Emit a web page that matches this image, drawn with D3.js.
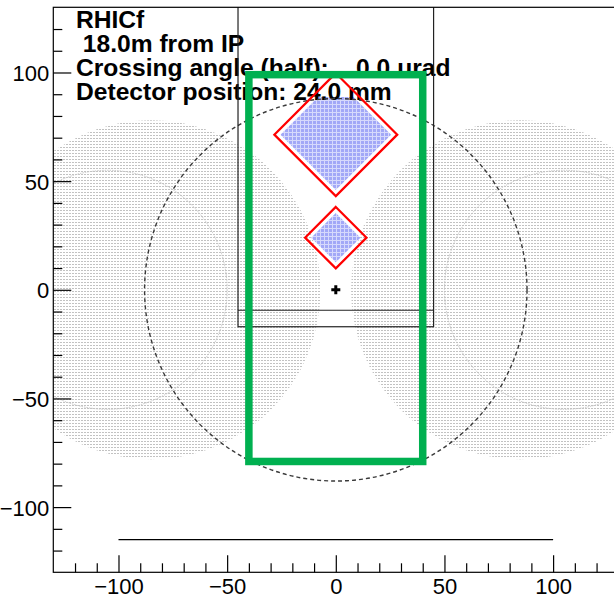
<!DOCTYPE html>
<html>
<head>
<meta charset="utf-8">
<script src="https://cdn.jsdelivr.net/npm/d3@7"></script>
<style>
  html, body { margin: 0; padding: 0; background: #fff; }
  svg { display: block; }
</style>
</head>
<body>
<div id="chart"></div>
<script>
// ---------- data (mm) ----------
const xDomain = [-130, 130];
const yDomain = [-130, 130];
const majorTicks = [-100, -50, 0, 50, 100];
const minorTicks = [-120, -110, -90, -80, -70, -60, -40, -30, -20, -10, 10, 20, 30, 40, 60, 70, 80, 90, 110, 120];
const tickLabels = ["\u2212100", "\u221250", "0", "50", "100"];

const beamCentersX = [-85, 85];     // dotted beam regions
const beamRadius = 78;
const apertureCentersX = [-105, 105]; // thin gray circles
const apertureRadius = 55;
const dashedRadius = 88;              // dashed circle around IP axis

const towerSizes = [20, 40];          // square tower sizes (rotated 45 deg)
const towerCentersY = [24.0, 71.4];
const towerInset = 2;                 // gap between red outline and blue fill

const greenRectX = [-40, 40];
const greenRectY = [-79, 99];
const blackRectX = [-45, 45];
const blackRectY = [-17, 140];
const blackInnerLineY = [-9.4];
const baselineY = [-115];
const baselineX = [-100, 100];
const markerPoint = [0, 0];

const infoLines = ["RHICf", " 18.0m from IP", "Crossing angle (half):    0.0 urad", "Detector position: 24.0 mm"];

(function () {
// ---------- layout ----------
const W = 614, H = 596;
const pL = 53.3, pR = 618.3, pT = 7.3, pB = 572.3;
const x = d3.scaleLinear().domain(xDomain).range([pL, pR]);
const y = d3.scaleLinear().domain(yDomain).range([pB, pT]);
const k = (pR - pL) / (xDomain[1] - xDomain[0]);

const svg = d3.select("#chart").append("svg").attr("width", W).attr("height", H);
const defs = svg.append("defs");

defs.append("clipPath").attr("id", "plotclip")
  .append("rect").attr("x", pL).attr("y", pT).attr("width", pR - pL).attr("height", pB - pT);

// dotted pattern
const dots = defs.append("pattern").attr("id", "dots").attr("patternUnits", "userSpaceOnUse")
  .attr("width", 3).attr("height", 3);
dots.append("rect").attr("x", 0).attr("y", 0).attr("width", 2).attr("height", 1).attr("fill", "#c2c2c2");

// blue hatch pattern
const hatch = defs.append("pattern").attr("id", "hatch").attr("patternUnits", "userSpaceOnUse")
  .attr("width", 4).attr("height", 4);
hatch.append("rect").attr("width", 4).attr("height", 4).attr("fill", "#a2a8f7");
hatch.append("rect").attr("x", 0).attr("y", 0).attr("width", 4).attr("height", 1).attr("fill", "#d6d9fc");
hatch.append("rect").attr("x", 0).attr("y", 0).attr("width", 1).attr("height", 4).attr("fill", "#d6d9fc");

const plot = svg.append("g").attr("clip-path", "url(#plotclip)");

// beam dotted regions
plot.selectAll("circle.beam").data(beamCentersX).join("circle")
  .attr("class", "beam")
  .attr("cx", d => x(d)).attr("cy", y(0)).attr("r", beamRadius * k)
  .attr("fill", "url(#dots)");

// thin aperture circles
plot.selectAll("circle.ap").data(apertureCentersX).join("circle")
  .attr("class", "ap")
  .attr("cx", d => x(d)).attr("cy", y(0)).attr("r", apertureRadius * k)
  .attr("fill", "none").attr("stroke", "#c4c4c4").attr("stroke-width", 1)
  .attr("stroke-dasharray", "1.5,1");

// tower fills
function diamond(cy, h) {
  return [[0, cy + h], [h, cy], [0, cy - h], [-h, cy]].map(p => [x(p[0]), y(p[1])]);
}
const line = d3.line().curve(d3.curveLinearClosed);
towerSizes.forEach((s, i) => {
  const h = s / Math.SQRT2;
  plot.append("path")
    .attr("d", line(diamond(towerCentersY[i], h - towerInset * Math.SQRT2)))
    .attr("fill", "url(#hatch)").attr("stroke", "none");
});

// info pave (white box) and text
plot.append("rect").attr("x", 70).attr("y", pT).attr("width", 390).attr("height", 97 - pT)
  .attr("fill", "#fff");
const txt = plot.append("text")
  .attr("font-family", "Liberation Sans, Arial, sans-serif")
  .attr("font-weight", "bold").attr("font-size", 24.6).attr("fill", "#000")
  .style("white-space", "pre");
infoLines.forEach((s, i) => {
  txt.append("tspan").attr("x", 76).attr("y", 28.3 + i * 23.8).text(s);
});

// dashed circle
plot.append("circle")
  .attr("cx", x(0)).attr("cy", y(0)).attr("r", dashedRadius * k)
  .attr("fill", "none").attr("stroke", "#3a3a3a").attr("stroke-width", 1.4)
  .attr("stroke-dasharray", "4,3");

// black rectangle
plot.append("rect")
  .attr("x", x(blackRectX[0])).attr("y", y(blackRectY[1]))
  .attr("width", x(blackRectX[1]) - x(blackRectX[0]))
  .attr("height", y(blackRectY[0]) - y(blackRectY[1]))
  .attr("fill", "none").attr("stroke", "#222").attr("stroke-width", 1.2);
plot.selectAll("line.inner").data(blackInnerLineY).join("line")
  .attr("class", "inner")
  .attr("x1", x(blackRectX[0])).attr("x2", x(blackRectX[1]))
  .attr("y1", d => y(d)).attr("y2", d => y(d))
  .attr("stroke", "#222").attr("stroke-width", 1.2);

// tower outlines
towerSizes.forEach((s, i) => {
  const h = s / Math.SQRT2;
  plot.append("path")
    .attr("d", line(diamond(towerCentersY[i], h)))
    .attr("fill", "none").attr("stroke", "#ff0000").attr("stroke-width", 2.2)
    .attr("stroke-linejoin", "miter");
});

// green rectangle
plot.append("rect")
  .attr("x", x(greenRectX[0])).attr("y", y(greenRectY[1]))
  .attr("width", x(greenRectX[1]) - x(greenRectX[0]))
  .attr("height", y(greenRectY[0]) - y(greenRectY[1]))
  .attr("fill", "none").attr("stroke", "#00b050").attr("stroke-width", 7.5);

// plus marker
const mx = x(markerPoint[0]), my = y(markerPoint[1]);
plot.append("path")
  .attr("d", `M${mx - 4.5},${my}H${mx + 4.5}M${mx},${my - 4.5}V${my + 4.5}`)
  .attr("stroke", "#000").attr("stroke-width", 3);

// bottom horizontal line
plot.selectAll("line.base").data(baselineY).join("line")
  .attr("class", "base")
  .attr("x1", x(baselineX[0])).attr("x2", x(baselineX[1]))
  .attr("y1", d => y(d)).attr("y2", d => y(d))
  .attr("stroke", "#000").attr("stroke-width", 1.2);

// frame
svg.append("rect").attr("x", pL).attr("y", pT).attr("width", pR - pL).attr("height", pB - pT)
  .attr("fill", "none").attr("stroke", "#000").attr("stroke-width", 1.2);

// axes
const font = "Liberation Sans, Arial, sans-serif";
const xAxis = d3.axisTop(x).tickValues(majorTicks).tickSize(17)
  .tickFormat((d, i) => tickLabels[i]);
const gx = svg.append("g").attr("transform", `translate(0,${pB})`).call(xAxis);
gx.select(".domain").remove();
gx.selectAll(".tick line").attr("stroke", "#000").attr("stroke-width", 1.2);
gx.selectAll(".tick text").attr("y", 21.3).attr("dy", 0).attr("font-family", font).attr("font-size", 22)
  .attr("fill", "#000");
const gxm = svg.append("g").attr("transform", `translate(0,${pB})`)
  .call(d3.axisTop(x).tickValues(minorTicks).tickSize(9).tickFormat(""));
gxm.select(".domain").remove();
gxm.selectAll(".tick line").attr("stroke", "#000").attr("stroke-width", 1.2);

const yAxis = d3.axisRight(y).tickValues(majorTicks).tickSize(18)
  .tickFormat((d, i) => tickLabels[i]);
const gy = svg.append("g").attr("transform", `translate(${pL},0)`).call(yAxis);
gy.select(".domain").remove();
gy.selectAll(".tick line").attr("stroke", "#000").attr("stroke-width", 1.2);
gy.selectAll(".tick text").attr("x", -4).attr("text-anchor", "end").attr("dy", "0.36em")
  .attr("font-family", font).attr("font-size", 22).attr("fill", "#000");
const gym = svg.append("g").attr("transform", `translate(${pL},0)`)
  .call(d3.axisRight(y).tickValues(minorTicks).tickSize(9).tickFormat(""));
gym.select(".domain").remove();
gym.selectAll(".tick line").attr("stroke", "#000").attr("stroke-width", 1.2);
})();
</script>
</body>
</html>
